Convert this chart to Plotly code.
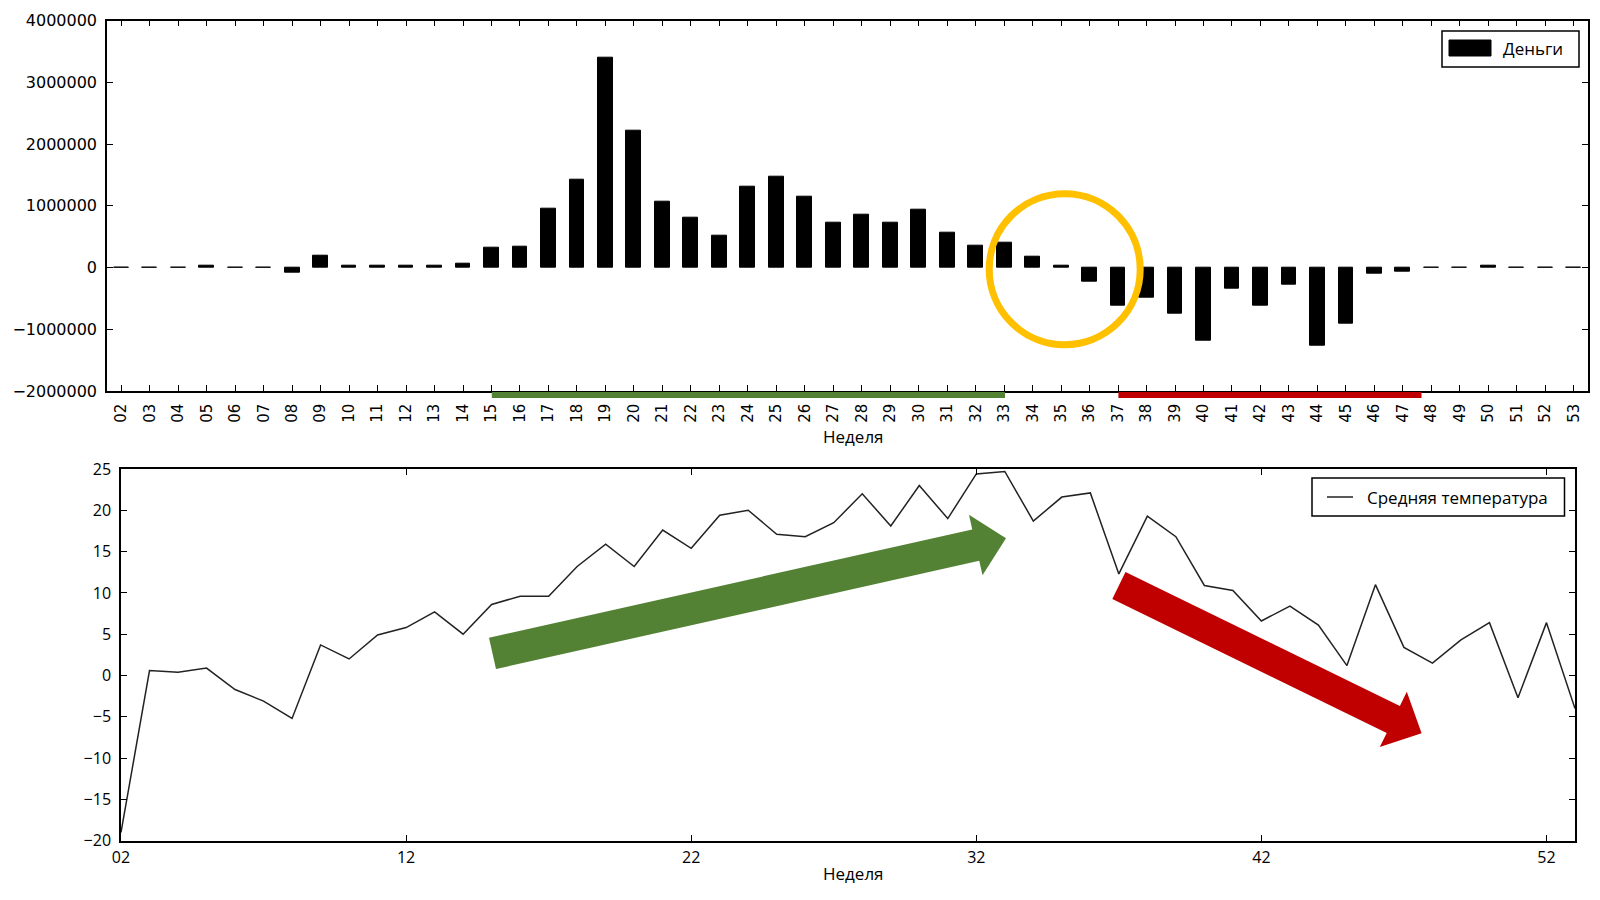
import math
import plotly.graph_objects as go

# ---------------- data ----------------
weeks = ["02", "03", "04", "05", "06", "07", "08", "09", "10", "11", "12", "13", "14",
         "15", "16", "17", "18", "19", "20", "21", "22", "23", "24", "25", "26", "27",
         "28", "29", "30", "31", "32", "33", "34", "35", "36", "37", "38", "39", "40",
         "41", "42", "43", "44", "45", "46", "47", "48", "49", "50", "51", "52", "53"]

money = [5000, 5000, 5000, 30000, 5000, 5000, -90000, 190000, 30000, 30000, 30000, 30000, 55000,
         320000, 345000, 960000, 1420000, 3400000, 2220000, 1070000, 800000, 510000, 1310000,
         1470000, 1150000, 720000, 850000, 720000, 930000, 560000, 350000, 400000, 170000,
         25000, -225000, -620000, -490000, -755000, -1180000, -335000, -620000, -280000,
         -1260000, -910000, -95000, -70000, -5000, -5000, 30000, -5000, -5000, -5000]

temperature = [-19.0, 0.6, 0.4, 0.9, -1.7, -3.1, -5.2, 3.7, 2.0, 4.9, 5.8, 7.7, 5.0,
               8.6, 9.6, 9.6, 13.2, 15.9, 13.2, 17.6, 15.4, 19.4, 20.0, 17.1, 16.8, 18.5,
               22.0, 18.1, 23.0, 19.0, 24.4, 24.7, 18.7, 21.6, 22.1, 12.3, 19.3, 16.8, 10.9,
               10.3, 6.6, 8.4, 6.1, 1.2, 11.0, 3.4, 1.5, 4.3, 6.4, -2.7, 6.4, -4.0]

money_ticks = [-2000000, -1000000, 0, 1000000, 2000000, 3000000, 4000000]
money_ticktext = ["\u22122000000", "\u22121000000", "0", "1000000", "2000000", "3000000", "4000000"]
temp_week_ticks = ["02", "12", "22", "32", "42", "52"]

money_name = "Деньги"
temp_name = "Средняя температура"
x_title = "Неделя"

# ---------------- layout helpers (window pixels -> paper) ----------------
OFF = 8          # page body margin
W, H = 1592, 892


def px(x):
    return (x - OFF) / W


def py(y):
    return 1 - (y - OFF) / H


GREEN = "#548235"
RED = "#C00000"
YELLOW = "#FFC000"
TICK_FONT_TOP = dict(family="DejaVu Sans", size=16, color="black")
TICK_FONT_X_TOP = dict(family="DejaVu Sans", size=15, color="black")
TICK_FONT_BOT = dict(family="Open Sans", size=16, color="black")
TEXT_FONT = dict(family="Open Sans", size=17, color="black")

fig = go.Figure()

fig.add_trace(go.Bar(
    x=weeks, y=money, name=money_name, xaxis="x", yaxis="y", width=0.52,
    marker=dict(color="black", line=dict(color="black", width=1)),
    showlegend=False,
))

fig.add_trace(go.Scatter(
    x=weeks, y=temperature, name=temp_name, xaxis="x2", yaxis="y2", mode="lines",
    line=dict(color="#222222", width=1.5), showlegend=False,
))

axis_common = dict(
    showgrid=False, zeroline=False, showline=True, mirror="ticks",
    linecolor="black", linewidth=1.5, ticks="inside", ticklen=6,
    tickwidth=1, tickcolor="black", automargin=False,
)

fig.update_layout(
    width=W, height=H,
    margin=dict(l=0, r=0, t=0, b=0),
    paper_bgcolor="white", plot_bgcolor="white",
    bargap=0,
    xaxis=dict(
        domain=[px(107), px(1588)], anchor="y", type="category",
        range=[-0.5, 51.5], tickmode="array", tickvals=weeks, ticktext=weeks,
        tickangle=-90, tickfont=TICK_FONT_X_TOP, ticklabelstandoff=5,
        **axis_common,
    ),
    yaxis=dict(
        domain=[py(391), py(20.7)], anchor="x",
        range=[-2000000, 4000000], tickmode="array",
        tickvals=money_ticks, ticktext=money_ticktext,
        tickfont=TICK_FONT_TOP, ticklabelstandoff=5,
        **axis_common,
    ),
    xaxis2=dict(
        domain=[px(121), px(1575)], anchor="y2", type="category",
        range=[0, 51], tickmode="array", tickvals=temp_week_ticks, ticktext=temp_week_ticks,
        tickfont=TICK_FONT_BOT, ticklabelstandoff=1,
        **axis_common,
    ),
    yaxis2=dict(
        domain=[py(840.7), py(469)], anchor="x2",
        range=[-20, 25], tickmode="linear", tick0=-20, dtick=5,
        tickfont=TICK_FONT_BOT, ticklabelstandoff=5,
        **axis_common,
    ),
)

shapes = []
annotations = []

# underlines below top chart
shapes.append(dict(type="rect", xref="paper", yref="paper",
                   x0=px(491.8), x1=px(1005), y0=py(398), y1=py(392),
                   fillcolor=GREEN, line=dict(width=0), layer="above"))
shapes.append(dict(type="rect", xref="paper", yref="paper",
                   x0=px(1118.4), x1=px(1421.5), y0=py(398), y1=py(392),
                   fillcolor=RED, line=dict(width=0), layer="above"))

# yellow circle
cx, cy, r = 1064.7, 269.2, 75.5
shapes.append(dict(type="circle", xref="paper", yref="paper",
                   x0=px(cx - r), x1=px(cx + r), y0=py(cy + r), y1=py(cy - r),
                   line=dict(color=YELLOW, width=7), fillcolor="rgba(0,0,0,0)", layer="above"))


def arrow_path(tail, tip, body_w, head_w, head_len):
    tx, ty = tail
    hx, hy = tip
    L = math.hypot(hx - tx, hy - ty)
    ux, uy = (hx - tx) / L, (hy - ty) / L
    nx, ny = -uy, ux
    bx, by = hx - ux * head_len, hy - uy * head_len
    pts = [
        (tx + nx * body_w / 2, ty + ny * body_w / 2),
        (bx + nx * body_w / 2, by + ny * body_w / 2),
        (bx + nx * head_w / 2, by + ny * head_w / 2),
        (hx, hy),
        (bx - nx * head_w / 2, by - ny * head_w / 2),
        (bx - nx * body_w / 2, by - ny * body_w / 2),
        (tx - nx * body_w / 2, ty - ny * body_w / 2),
    ]
    s = "M " + " L ".join(f"{px(x):.5f},{py(y):.5f}" for x, y in pts) + " Z"
    return s


shapes.append(dict(type="path", xref="paper", yref="paper",
                   path=arrow_path((492.5, 653.4), (1006, 538.3), 32, 62, 31),
                   fillcolor=GREEN, line=dict(width=0), layer="above"))
shapes.append(dict(type="path", xref="paper", yref="paper",
                   path=arrow_path((1118.9, 585.4), (1421.6, 733.3), 30, 61.5, 31.5),
                   fillcolor=RED, line=dict(width=0), layer="above"))

# legend 1 (money)
shapes.append(dict(type="rect", xref="paper", yref="paper",
                   x0=px(1442), x1=px(1579), y0=py(67), y1=py(31),
                   fillcolor="white", line=dict(color="black", width=1.5), layer="above"))
shapes.append(dict(type="rect", xref="paper", yref="paper",
                   x0=px(1449), x1=px(1491), y0=py(56), y1=py(40),
                   fillcolor="black", line=dict(color="black", width=1), layer="above"))
annotations.append(dict(xref="paper", yref="paper", x=px(1501), y=py(48.5),
                        xanchor="left", yanchor="middle", text=money_name,
                        showarrow=False, font=TEXT_FONT))

# legend 2 (temperature)
shapes.append(dict(type="rect", xref="paper", yref="paper",
                   x0=px(1312), x1=px(1564.5), y0=py(516), y1=py(478),
                   fillcolor="white", line=dict(color="black", width=1.5), layer="above"))
shapes.append(dict(type="line", xref="paper", yref="paper",
                   x0=px(1327), x1=px(1353), y0=py(497), y1=py(497),
                   line=dict(color="#222222", width=1.5), layer="above"))
annotations.append(dict(xref="paper", yref="paper", x=px(1365), y=py(497),
                        xanchor="left", yanchor="middle", text=temp_name,
                        showarrow=False, font=TEXT_FONT))

# axis titles
annotations.append(dict(xref="paper", yref="paper", x=px(853), y=py(436),
                        xanchor="center", yanchor="middle", text=x_title,
                        showarrow=False, font=TEXT_FONT))
annotations.append(dict(xref="paper", yref="paper", x=px(853), y=py(873),
                        xanchor="center", yanchor="middle", text=x_title,
                        showarrow=False, font=TEXT_FONT))

fig.update_layout(shapes=shapes, annotations=annotations)

fig.write_html("out.html")
